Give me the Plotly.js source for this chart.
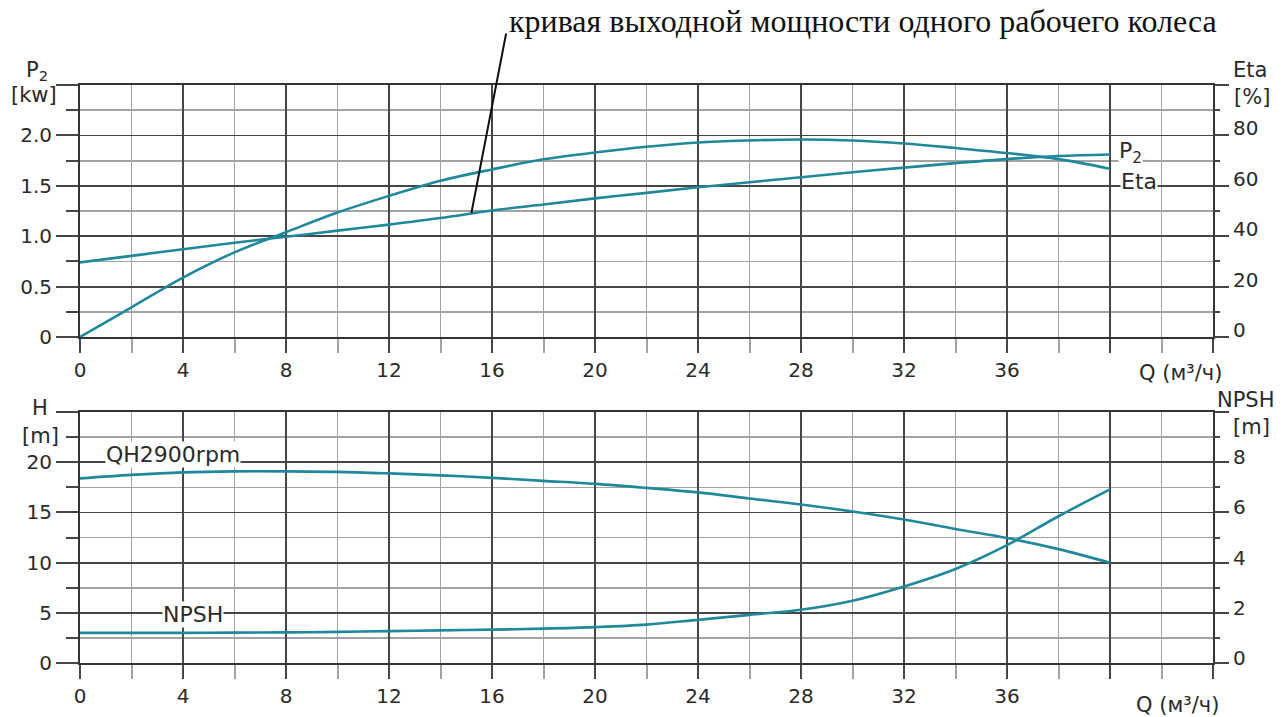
<!DOCTYPE html>
<html>
<head>
<meta charset="utf-8">
<script src="https://cdn.plot.ly/plotly-3.0.1.min.js"></script>
<style>html,body{margin:0;padding:0;background:#fff;}#chart{width:1284px;height:717px;}</style>
</head>
<body>
<div id="chart"></div>
<script>
// ---- data ----
const Q = [0, 2, 4, 6, 8, 10, 12, 14, 16, 18, 20, 22, 24, 26, 28, 30, 32, 34, 36, 38, 40];
const P2_kW = [0.74, 0.805, 0.87, 0.935, 0.995, 1.055, 1.115, 1.18, 1.255, 1.315, 1.375, 1.43, 1.485, 1.535, 1.585, 1.635, 1.68, 1.725, 1.765, 1.795, 1.81];
const ETA_pct = [0, 11.8, 23.6, 33.6, 41.6, 49.4, 56, 62, 66.5, 70.5, 73.2, 75.5, 77.2, 78, 78.4, 78, 76.8, 75, 73, 70.6, 66.8];
const QH_m = [18.4, 18.75, 19.0, 19.1, 19.1, 19.05, 18.9, 18.7, 18.45, 18.15, 17.85, 17.45, 17.0, 16.4, 15.8, 15.1, 14.3, 13.35, 12.45, 11.35, 10.0];
const NPSH_m = [1.2, 1.2, 1.2, 1.21, 1.22, 1.24, 1.27, 1.3, 1.33, 1.37, 1.43, 1.53, 1.72, 1.92, 2.12, 2.48, 3.05, 3.75, 4.7, 5.85, 6.92];

const xTickVals = [0, 4, 8, 12, 16, 20, 24, 28, 32, 36, 40, 44];
const xTickText = ['0', '4', '8', '12', '16', '20', '24', '28', '32', '36', '', ''];
const pTickVals = [0, 0.5, 1, 1.5, 2, 2.5];
const pTickText = ['0', '0.5', '1.0', '1.5', '2.0', ''];
const etaTickVals = [0, 20, 40, 60, 80, 100];
const etaTickText = ['0', '20', '40', '60', '80', ''];
const hTickVals = [0, 5, 10, 15, 20, 25];
const hTickText = ['0', '5', '10', '15', '20', ''];
const npshTickVals = [0, 2, 4, 6, 8, 10];
const npshTickText = ['0', '2', '4', '6', '8', ''];

const leaderQ = 15.2, leaderP = 1.23;

// ---- styles ----
const TEAL = '#1f889b';
const MAJ = '#464646';
const MIN = '#a3a3a3';
const TXT = '#2a2a2a';
const FONT = 'DejaVu Sans';
const tf = {family: FONT, size: 20, color: TXT};

function xAx(anchor) {
  return {
    anchor: anchor, range: [0, 44], domain: [0, 1],
    tickmode: 'array', tickvals: xTickVals, ticktext: xTickText,
    ticks: 'outside', ticklen: 14, tickwidth: 2, tickcolor: MAJ,
    showgrid: true, gridcolor: MAJ, gridwidth: 1.8,
    showline: true, linecolor: '#333', linewidth: 2, mirror: true,
    zeroline: false, tickfont: tf, fixedrange: true,
    minor: {tickmode: 'linear', tick0: 0, dtick: 2, ticks: 'outside', ticklen: 14, tickwidth: 2, tickcolor: MIN,
            showgrid: true, gridcolor: MIN, gridwidth: 1.8}
  };
}
function yLeft(domain, range, vals, text, minorD, anchor) {
  return {
    domain: domain, range: range, anchor: anchor,
    tickmode: 'array', tickvals: vals, ticktext: text,
    ticks: 'outside', ticklen: 22, tickwidth: 2, tickcolor: MAJ,
    showgrid: true, gridcolor: MAJ, gridwidth: 1.8,
    showline: true, linecolor: '#333', linewidth: 2, mirror: true,
    zeroline: false, tickfont: tf, fixedrange: true,
    minor: {tickmode: 'linear', tick0: 0, dtick: minorD, ticks: 'outside', ticklen: 12, tickwidth: 2, tickcolor: MAJ,
            showgrid: true, gridcolor: MIN, gridwidth: 1.8}
  };
}
function yRight(over, range, vals, text, minorD, anchor, shift) {
  return {
    overlaying: over, side: 'right', range: range, anchor: anchor,
    tickmode: 'array', tickvals: vals, ticktext: text,
    ticks: 'outside', ticklen: 15, tickwidth: 2, tickcolor: MAJ,
    showgrid: false, showline: false, zeroline: false, tickfont: tf, fixedrange: true,
    ticklabelshift: shift,
    minor: {tickmode: 'linear', tick0: 0, dtick: minorD, ticks: 'outside', ticklen: 6, tickwidth: 2, tickcolor: MAJ, showgrid: false}
  };
}

const lineStyle = {color: TEAL, width: 2.6, shape: 'spline', smoothing: 1};
const traces = [
  {x: Q, y: P2_kW, xaxis: 'x', yaxis: 'y', mode: 'lines', line: lineStyle, name: 'P2', hoverinfo: 'skip'},
  {x: Q, y: ETA_pct, xaxis: 'x', yaxis: 'y2', mode: 'lines', line: lineStyle, name: 'Eta', hoverinfo: 'skip'},
  {x: Q, y: QH_m, xaxis: 'x2', yaxis: 'y3', mode: 'lines', line: lineStyle, name: 'QH2900rpm', hoverinfo: 'skip'},
  {x: Q, y: NPSH_m, xaxis: 'x2', yaxis: 'y4', mode: 'lines', line: lineStyle, name: 'NPSH', hoverinfo: 'skip'}
];

function lab(text, x, y, opts) {
  return Object.assign({text: text, x: x, y: y, xref: 'paper', yref: 'paper', showarrow: false,
    font: {family: FONT, size: 21, color: TXT}, xanchor: 'center', yanchor: 'middle'}, opts || {});
}
const curveFont = {family: FONT, size: 22, color: TXT};

const annotations = [
  lab('кривая выходной мощности одного рабочего колеса', 0.3769, 1.111,
      {xanchor: 'left', font: {family: 'Liberation Serif', size: 32, color: '#111'}}),
  {x: leaderQ, y: leaderP, xref: 'x', yref: 'y', text: '', showarrow: true, arrowhead: 0,
   arrowwidth: 2, arrowcolor: '#111', ax: 35, ay: -181, standoff: 0, startstandoff: 0},
  lab('P<sub>2</sub>', -0.038, 1.024),
  lab('[kw]', -0.041, 0.983),
  lab('Eta', 1.033, 1.026),
  lab('[%]', 1.034, 0.979),
  lab('H', -0.035, 0.441),
  lab('[m]', -0.035, 0.393),
  lab('NPSH', 1.029, 0.455),
  lab('[m]', 1.034, 0.408),
  lab('Q (м³/ч)', 0.971, 0.502),
  lab('Q (м³/ч)', 0.969, -0.073),
  lab('P<sub>2</sub>', 40.3, 1.83, {xref: 'x', yref: 'y', xanchor: 'left', bgcolor: 'white', borderpad: 0, font: curveFont}),
  lab('Eta', 40.4, 1.54, {xref: 'x', yref: 'y', xanchor: 'left', bgcolor: 'white', borderpad: 0, font: curveFont}),
  lab('QH2900rpm', 0.97, 20.75, {xref: 'x2', yref: 'y3', xanchor: 'left', bgcolor: 'white', borderpad: 0, font: curveFont}),
  lab('NPSH', 3.18, 4.85, {xref: 'x2', yref: 'y3', xanchor: 'left', bgcolor: 'white', borderpad: 0, font: curveFont})
];

const layout = {
  width: 1284, height: 717,
  margin: {l: 80, r: 71, t: 85, b: 54, pad: 0},
  paper_bgcolor: '#fff', plot_bgcolor: '#fff',
  showlegend: false,
  font: {family: FONT, color: TXT},
  xaxis: xAx('y'),
  xaxis2: xAx('y3'),
  yaxis: yLeft([0.564, 1], [0, 2.5], pTickVals, pTickText, 0.25, 'x'),
  yaxis2: yRight('y', [0, 100], etaTickVals, etaTickText, 10, 'x', -7),
  yaxis3: yLeft([0, 0.434], [0, 25], hTickVals, hTickText, 2.5, 'x2'),
  yaxis4: yRight('y3', [0, 10], npshTickVals, npshTickText, 1, 'x2', -5),
  annotations: annotations
};

Plotly.newPlot('chart', traces, layout, {staticPlot: true, displayModeBar: false});
</script>
</body>
</html>
